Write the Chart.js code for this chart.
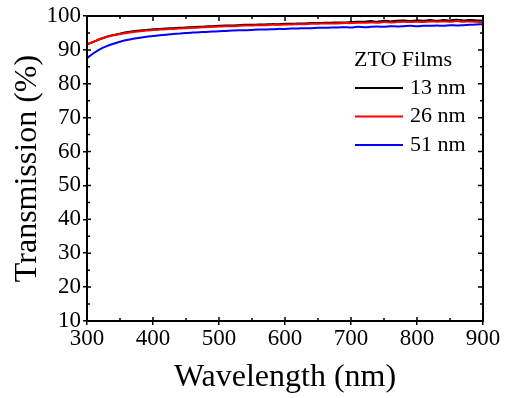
<!DOCTYPE html>
<html>
<head>
<meta charset="utf-8">
<script src="https://cdn.jsdelivr.net/npm/chart.js@4/dist/chart.umd.min.js"></script>
<style>
  html, body { margin: 0; padding: 0; background: #fff; }
  #wrap { width: 509px; height: 398px; }
</style>
</head>
<body>
<div id="wrap"><canvas id="grafico"></canvas></div>
<script>
// comprimentos de onda (nm)
const wavelengths = [300, 310, 320, 330, 340, 350, 360, 370, 380, 390,
  400, 410, 420, 430, 440, 450, 460, 470, 480, 490,
  500, 510, 520, 530, 540, 550, 560, 570, 580, 590,
  600, 610, 620, 630, 640, 650, 660, 670, 680, 690,
  700, 710, 720, 730, 740, 750, 760, 770, 780, 790,
  800, 810, 820, 830, 840, 850, 860, 870, 880, 890, 900];

const film13 = [91.6, 92.4, 93.2, 93.9, 94.4, 94.8, 95.2, 95.5, 95.7, 95.9,
  96.1, 96.2, 96.3, 96.4, 96.5, 96.6, 96.7, 96.8, 96.9, 97.0,
  97.1, 97.2, 97.2, 97.3, 97.4, 97.4, 97.5, 97.5, 97.6, 97.6,
  97.7, 97.7, 97.8, 97.8, 97.9, 97.9, 98.0, 98.0, 98.1, 98.1,
  98.2, 98.3, 98.3, 98.5, 98.3, 98.6, 98.4, 98.6, 98.7, 98.5,
  98.7, 98.6, 98.8, 98.6, 98.8, 98.7, 98.9, 98.7, 98.8, 98.7, 98.6];

const film26 = [91.7, 92.4, 93.2, 93.8, 94.3, 94.7, 95.0, 95.3, 95.5, 95.7,
  95.9, 96.0, 96.1, 96.2, 96.3, 96.4, 96.5, 96.6, 96.7, 96.8,
  96.9, 97.0, 97.0, 97.1, 97.2, 97.2, 97.3, 97.3, 97.4, 97.4,
  97.5, 97.5, 97.6, 97.6, 97.7, 97.7, 97.8, 97.8, 97.8, 97.9,
  97.9, 98.0, 98.0, 98.1, 98.0, 98.2, 98.1, 98.2, 98.3, 98.2,
  98.3, 98.2, 98.4, 98.3, 98.4, 98.3, 98.5, 98.3, 98.4, 98.3, 98.2];

const film51 = [87.6, 89.0, 90.2, 91.1, 91.8, 92.4, 92.9, 93.3, 93.6, 93.9,
  94.1, 94.3, 94.5, 94.7, 94.8, 95.0, 95.1, 95.2, 95.3, 95.4,
  95.5, 95.6, 95.7, 95.8, 95.8, 95.9, 96.0, 96.0, 96.1, 96.2,
  96.2, 96.3, 96.3, 96.4, 96.4, 96.5, 96.5, 96.6, 96.6, 96.7,
  96.6, 96.8, 96.7, 96.8, 96.9, 96.8, 97.0, 96.9, 97.0, 97.1,
  97.0, 97.1, 97.1, 97.2, 97.1, 97.3, 97.2, 97.3, 97.4, 97.5, 97.6];

const seriesLabels = ['13 nm', '26 nm', '51 nm'];
const seriesColors = ['#000000', '#ff0000', '#0000ff'];
const seriesOrder = [1, 0, 2]; // vermelho por cima
const legendTitle = 'ZTO Films';
const xTitle = 'Wavelength (nm)';
const yTitle = 'Transmission (%)';

const fonte = '"Liberation Serif", "Times New Roman", serif';

function pontos(valores) {
  return wavelengths.map((w, i) => ({ x: w, y: valores[i] }));
}

// molduras, ticks menores, títulos e legenda
const extras = {
  id: 'extras',
  afterDraw(chart) {
    const ctx = chart.ctx;
    const a = chart.chartArea;
    const xs = chart.scales.x;
    const ys = chart.scales.y;
    ctx.save();
    ctx.strokeStyle = '#000';
    ctx.lineWidth = 2;
    ctx.strokeRect(a.left, a.top, a.right - a.left, a.bottom - a.top);

    ctx.lineWidth = 1.5;
    ctx.beginPath();
    // ticks menores (para dentro)
    for (let v = 350; v < 900; v += 100) {
      const px = xs.getPixelForValue(v);
      ctx.moveTo(px, a.bottom); ctx.lineTo(px, a.bottom - 3);
      ctx.moveTo(px, a.top); ctx.lineTo(px, a.top + 3);
    }
    for (let v = 15; v < 100; v += 10) {
      const py = ys.getPixelForValue(v);
      ctx.moveTo(a.left, py); ctx.lineTo(a.left + 3, py);
      ctx.moveTo(a.right, py); ctx.lineTo(a.right - 3, py);
    }
    // ticks principais para dentro
    for (let v = 400; v < 900; v += 100) {
      const px = xs.getPixelForValue(v);
      ctx.moveTo(px, a.top); ctx.lineTo(px, a.top + 5);
      ctx.moveTo(px, a.bottom); ctx.lineTo(px, a.bottom - 4);
    }
    for (let v = 20; v < 100; v += 10) {
      const py = ys.getPixelForValue(v);
      ctx.moveTo(a.right, py); ctx.lineTo(a.right - 5, py);
      ctx.moveTo(a.left, py); ctx.lineTo(a.left + 4, py);
    }
    ctx.stroke();

    // títulos dos eixos
    ctx.fillStyle = '#000';
    ctx.font = '32px ' + fonte;
    ctx.textAlign = 'center';
    ctx.textBaseline = 'middle';
    ctx.fillText(xTitle, (a.left + a.right) / 2, 378);
    ctx.save();
    ctx.translate(28, (a.top + a.bottom) / 2);
    ctx.rotate(-Math.PI / 2);
    ctx.fillText(yTitle, 0, 0);
    ctx.restore();

    // legenda
    ctx.font = '22px ' + fonte;
    ctx.textAlign = 'left';
    ctx.fillText(legendTitle, 354, 60);
    chart.data.datasets.forEach((ds, i) => {
      const y = 88 + i * 28.5;
      ctx.strokeStyle = ds.borderColor;
      ctx.lineWidth = 2;
      ctx.beginPath();
      ctx.moveTo(355, y); ctx.lineTo(403, y);
      ctx.stroke();
      ctx.fillText(ds.label, 410, y);
    });
    ctx.restore();
  }
};

document.addEventListener('DOMContentLoaded', function () {
  const ctx1 = document.getElementById('grafico').getContext('2d');
  new Chart(ctx1, {
    type: 'line',
    data: {
      datasets: [film13, film26, film51].map((vals, i) => ({
        label: seriesLabels[i],
        data: pontos(vals),
        borderColor: seriesColors[i],
        borderWidth: 2,
        order: seriesOrder[i],
        pointRadius: 0,
        fill: false,
        tension: 0.2
      }))
    },
    options: {
      responsive: true,
      maintainAspectRatio: false,
      animation: false,
      layout: { padding: { top: 16, right: 26, left: 0, bottom: 0 } },
      plugins: { legend: { display: false }, tooltip: { enabled: false } },
      scales: {
        x: {
          type: 'linear',
          min: 300, max: 900,
          afterFit(s) { s.height = 77; },
          ticks: { stepSize: 100, color: '#000', font: { family: fonte, size: 23 }, padding: 0, maxRotation: 0 },
          grid: { drawOnChartArea: false, color: '#000', lineWidth: 1.5, tickLength: 4 },
          border: { color: '#000', width: 2 }
        },
        y: {
          min: 10, max: 100,
          afterFit(s) { s.width = 87; },
          ticks: { stepSize: 10, color: '#000', font: { family: fonte, size: 23 }, padding: 2 },
          grid: { drawOnChartArea: false, color: '#000', lineWidth: 1.5, tickLength: 4 },
          border: { color: '#000', width: 2 }
        }
      }
    },
    plugins: [extras]
  });
});
</script>
</body>
</html>
